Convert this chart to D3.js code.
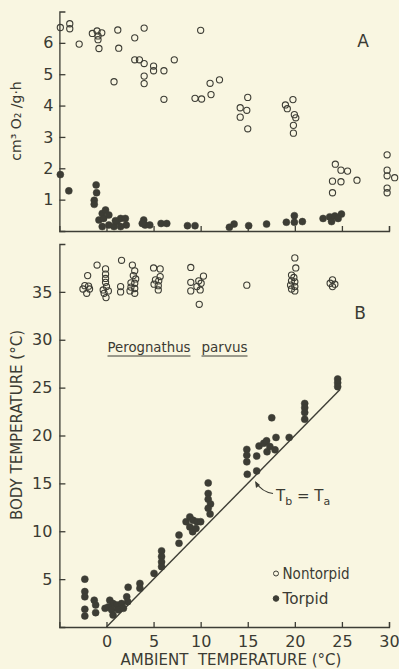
<!DOCTYPE html>
<html>
<head>
<meta charset="utf-8">
<script src="https://cdn.jsdelivr.net/npm/d3@7"></script>
<style>
  html, body { margin: 0; padding: 0; background: #f9f6e1; }
  svg text { font-family: "DejaVu Sans", sans-serif; fill: #3b3b33; }
</style>
</head>
<body>
<div id="chart"></div>
<script>
// panel A: oxygen consumption (cm3 O2/g.h) vs ambient temperature
const oxyNontorpid = [
  [-4.9,6.49],[-3.9,6.61],[-3.9,6.45],[-2.9,5.96],[-1.5,6.30],[-1.0,6.38],[-0.5,6.32],[-0.9,6.22],
  [-0.9,6.10],[-0.8,5.82],[1.2,6.41],[1.3,5.83],[0.8,4.76],[3.0,6.16],[4.0,6.47],[3.0,5.46],
  [3.5,5.46],[4.0,5.34],[4.0,4.94],[4.0,4.70],[5.0,5.26],[5.0,5.11],[6.1,5.11],[7.2,5.46],
  [6.1,4.20],[9.4,4.23],[10.0,6.40],[11.0,4.71],[12.0,4.82],[11.1,4.35],[10.1,4.21],[15.0,4.26],
  [14.2,3.93],[14.9,3.85],[14.2,3.63],[15.0,3.26],[19.8,4.19],[19.0,4.02],[19.2,3.90],[19.95,3.71],
  [20.1,3.61],[19.85,3.37],[19.85,3.12],[29.8,2.43],[24.3,2.13],[24.9,1.94],[25.6,1.91],[24.0,1.59],
  [24.9,1.57],[26.6,1.62],[24.0,1.22],[29.8,1.94],[29.8,1.76],[30.6,1.70],[29.8,1.37],[29.8,1.22]
];
const oxyTorpid = [
  [-4.9,1.80],[-4.0,1.28],[-1.1,1.47],[-1.05,1.22],[-1.3,0.98],[-1.3,0.85],[-0.45,0.56],[-0.1,0.67],
  [-0.8,0.35],[-0.3,0.40],[0.25,0.51],[-0.45,0.14],[0.25,0.19],[0.8,0.14],[1.1,0.30],[1.5,0.40],
  [2.0,0.40],[2.1,0.19],[1.5,0.14],[0.95,0.33],[3.95,0.35],[4.1,0.19],[3.8,0.24],[4.6,0.19],
  [5.8,0.24],[6.4,0.24],[8.6,0.17],[9.4,0.17],[13.05,0.12],[13.55,0.22],[15.1,0.17],[17.0,0.22],
  [19.1,0.28],[19.95,0.49],[19.95,0.28],[20.8,0.30],[23.0,0.40],[23.7,0.45],[24.25,0.48],[24.95,0.54],
  [23.9,0.30],[24.6,0.40]
];

// panel B: body temperature vs ambient temperature
const tbNontorpid = [
  [-2.0,36.7],[-1.0,37.8],[-2.3,35.65],[-1.9,35.6],[-2.5,35.3],[-1.8,35.3],[-2.1,34.85],
  [-0.1,37.4],[-0.1,36.85],[-0.1,36.4],[-0.1,36.0],[0.0,35.55],[-0.35,35.2],[0.2,35.1],[-0.25,34.85],[-0.05,34.4],
  [1.6,38.3],[1.5,35.55],[1.5,35.0],
  [2.75,37.8],[3.0,37.2],[2.85,36.7],[3.1,36.35],[2.6,35.95],[3.0,35.9],[2.6,35.5],[3.0,35.35],[2.5,35.1],[3.0,34.85],
  [5.0,37.5],[5.7,37.4],[5.7,36.6],[5.2,36.25],[5.55,36.15],[5.05,35.8],[5.5,35.65],[5.5,35.2],
  [8.95,37.55],[10.3,36.65],[8.95,36.0],[9.8,36.15],[10.05,35.9],[9.6,35.55],[8.95,35.1],[9.95,35.2],[9.85,33.7],
  [14.9,35.7],
  [20.0,38.55],[20.1,37.5],[19.65,36.75],[19.9,36.5],[19.65,36.15],[20.0,36.05],[19.55,35.7],[20.0,35.55],[19.65,35.3],[20.0,35.1],
  [24.0,36.25],[23.75,35.9],[24.25,35.8],[24.0,35.55]
];
const tbTorpid = [
  [-2.3,5.0],[-2.3,3.7],[-2.3,3.15],[-2.3,1.85],[-2.3,1.15],[-1.3,2.8],[-1.15,2.3],[-1.15,1.5],
  [-0.15,1.95],[0.35,2.8],[0.7,2.45],[0.2,2.1],[1.1,2.3],[0.55,1.8],[1.25,1.8],[1.6,2.45],[0.7,1.25],[1.8,1.95],
  [2.15,3.15],[2.25,2.65],[2.3,4.15],[3.55,4.55],[3.55,4.05],[5.05,5.6],
  [5.85,7.95],[5.85,7.35],[5.85,6.8],[5.85,6.3],[7.7,9.6],[7.7,8.75],
  [8.45,11.0],[8.85,11.5],[9.2,11.15],[9.6,11.0],[10.0,11.0],[8.85,10.45],[9.15,9.95],[9.5,10.3],
  [10.8,15.05],[10.8,13.95],[10.8,13.35],[11.05,12.85],[10.8,12.4],[11.0,11.8],
  [14.9,18.55],[14.9,17.95],[14.9,17.25],[14.95,15.95],[15.95,16.3],[15.95,17.85],
  [16.2,18.9],[16.7,19.2],[17.0,19.45],[17.35,18.85],[17.9,18.5],[18.0,19.8],[17.05,18.3],[17.55,21.85],
  [19.4,19.8],[21.05,23.35],[21.05,22.9],[21.05,22.4],[21.05,21.7],
  [24.55,25.9],[24.55,25.5],[24.55,25.1]
];

const xTicks = [0, 5, 10, 15, 20, 25, 30];
const oxyTicks = [1, 2, 3, 4, 5, 6];
const tbTicks = [5, 10, 15, 20, 25, 30, 35];
const identityLine = [0, 24.8];

const width = 399, height = 669;
const ink = "#3d3d35";

const svg = d3.select("#chart").append("svg")
  .attr("width", width)
  .attr("height", height);

svg.append("rect").attr("width", width).attr("height", height).attr("fill", "#f9f6e1");

const x = d3.scaleLinear().domain([-5, 30]).range([59.4, 389]);
const yA = d3.scaleLinear().domain([0, 7]).range([231, 11.5]);
const yB = d3.scaleLinear().domain([0, 40]).range([627, 244]);

function styleAxis(g) {
  g.selectAll("path, line").attr("stroke", ink).attr("stroke-width", 1.3);
  g.selectAll("text").attr("fill", ink).style("font-size", "16px")
    .style("font-family", "'DejaVu Sans', sans-serif");
}

// ---- panel A axes
svg.append("g")
  .attr("transform", "translate(" + x(-5) + ",0)")
  .call(d3.axisLeft(yA).tickValues(oxyTicks).tickFormat(d3.format("d"))
    .tickSizeInner(-6).tickSizeOuter(-6).tickPadding(6))
  .call(styleAxis);

svg.append("g")
  .attr("transform", "translate(0," + yA(0) + ")")
  .call(d3.axisBottom(x).tickValues(xTicks).tickFormat("").tickSizeInner(-5).tickSizeOuter(-5))
  .call(styleAxis);

// ---- panel B axes
svg.append("g")
  .attr("transform", "translate(" + x(-5) + ",0)")
  .call(d3.axisLeft(yB).tickValues(tbTicks).tickSizeInner(-6).tickSizeOuter(-6).tickPadding(7))
  .call(styleAxis);

svg.append("g")
  .attr("transform", "translate(0," + yB(0) + ")")
  .call(d3.axisBottom(x).tickValues(xTicks).tickSizeInner(-5).tickSizeOuter(-5).tickPadding(9))
  .call(styleAxis);

// Tb = Ta line
svg.append("line")
  .attr("x1", x(identityLine[0])).attr("y1", yB(identityLine[0]))
  .attr("x2", x(identityLine[1])).attr("y2", yB(identityLine[1]))
  .attr("stroke", ink).attr("stroke-width", 1.4);

// points
function dots(data, yScale, filled) {
  svg.append("g")
    .selectAll("circle")
    .data(data)
    .enter()
    .append("circle")
    .attr("cx", d => x(d[0]))
    .attr("cy", d => yScale(d[1]))
    .attr("r", filled ? 3.5 : 3.1)
    .attr("fill", filled ? ink : "none")
    .attr("stroke", ink)
    .attr("stroke-width", filled ? 0.5 : 1.1);
}
dots(oxyNontorpid, yA, false);
dots(oxyTorpid, yA, true);
dots(tbNontorpid, yB, false);
dots(tbTorpid, yB, true);

// panel letters
svg.append("text").attr("x", 363).attr("y", 47).attr("text-anchor", "middle")
  .style("font-size", "17px").text("A");
svg.append("text").attr("x", 360).attr("y", 319).attr("text-anchor", "middle")
  .style("font-size", "17px").text("B");

// axis titles
svg.append("text")
  .attr("transform", "translate(21,121) rotate(-90)")
  .attr("text-anchor", "middle")
  .style("font-size", "14px")
  .text("cm³ O₂ /g·h");

svg.append("text")
  .attr("transform", "translate(22,425) rotate(-90)")
  .attr("text-anchor", "middle")
  .style("font-size", "15px")
  .text("BODY TEMPERATURE (°C)");

svg.append("text")
  .attr("x", 231).attr("y", 665)
  .attr("text-anchor", "middle")
  .style("font-size", "15px")
  .attr("xml:space", "preserve")
  .text("AMBIENT  TEMPERATURE (°C)");

// species name, underlined word by word
const species = svg.append("g");
[["Perognathus", 107.5, 83], ["parvus", 201.5, 46]].forEach(([w, px, len]) => {
  species.append("text").attr("x", px).attr("y", 352)
    .attr("textLength", len).attr("lengthAdjust", "spacingAndGlyphs")
    .style("font-size", "14px").text(w);
  species.append("line")
    .attr("x1", px).attr("x2", px + len)
    .attr("y1", 356).attr("y2", 356)
    .attr("stroke", ink).attr("stroke-width", 1);
});

// Tb = Ta label with curved arrow
const lab = svg.append("text").attr("x", 276).attr("y", 501).style("font-size", "15px");
lab.append("tspan").text("T");
lab.append("tspan").attr("dy", 4).style("font-size", "11px").text("b");
lab.append("tspan").attr("dy", -4).text(" = T");
lab.append("tspan").attr("dy", 4).style("font-size", "11px").text("a");

svg.append("path")
  .attr("d", "M273,493.5 Q262,492 256,482.5")
  .attr("fill", "none").attr("stroke", ink).attr("stroke-width", 1.2);
svg.append("path")
  .attr("d", "M255,481 L256,488 L260,485 Z")
  .attr("fill", ink);

// legend
const legend = [["Nontorpid", false, 579, 67], ["Torpid", true, 604, 46]];
legend.forEach(([name, filled, yy, len]) => {
  svg.append("circle").attr("cx", 276).attr("cy", yy - 5.5).attr("r", filled ? 2.8 : 2.5)
    .attr("fill", filled ? ink : "none").attr("stroke", ink).attr("stroke-width", 1);
  svg.append("text").attr("x", 282.5).attr("y", yy)
    .attr("textLength", len).attr("lengthAdjust", "spacingAndGlyphs")
    .style("font-size", "15px").text(name);
});
</script>
</body>
</html>
